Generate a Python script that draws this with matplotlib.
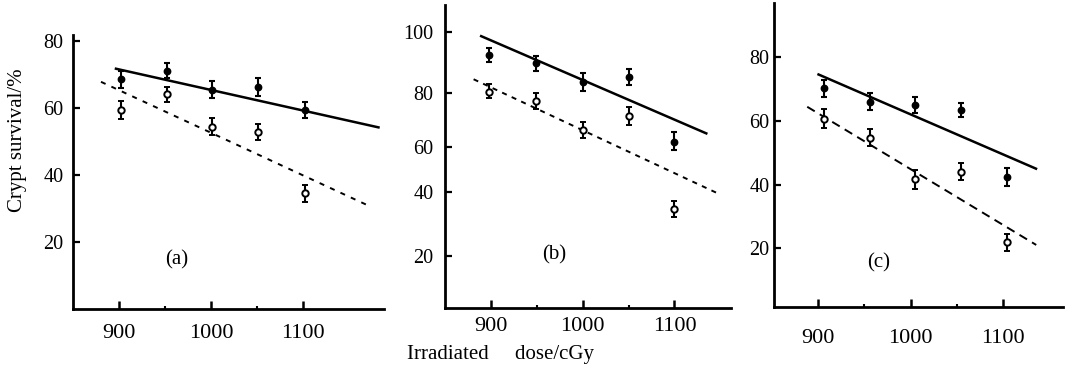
import numpy as np
import matplotlib
matplotlib.use("Agg")
import matplotlib.pyplot as plt

plt.rcParams['font.family'] = ['Liberation Serif', 'DejaVu Serif']

# ---------------- data ----------------
dose_ticks = [900, 1000, 1100]
dose_minor = [950, 1050]

# panel (a)
dose_a = [902, 952, 1001, 1051, 1103]
a_upper = [68.6, 71.1, 65.4, 66.2, 59.4]
a_upper_err = [2.5, 2.2, 2.5, 2.6, 2.5]
a_lower = [59.4, 64.1, 54.4, 52.8, 34.5]
a_lower_err = [2.8, 2.3, 2.6, 2.3, 2.6]
a_fit_solid_x = [895, 1184]
a_fit_solid_y = [71.8, 54.1]
a_fit_dash_x = [880, 1170]
a_fit_dash_y = [67.8, 31.0]
a_yticks = [20, 40, 60, 80]

# panel (b)
dose_b = [898, 949, 1000, 1050, 1100]
b_upper = [92.6, 89.8, 83.8, 85.4, 61.9]
b_upper_err = [2.3, 2.5, 3.0, 2.7, 3.5]
b_lower = [80.5, 77.1, 66.3, 71.5, 34.7]
b_lower_err = [2.4, 3.0, 2.9, 3.3, 2.6]
b_fit_solid_x = [888, 1136]
b_fit_solid_y = [98.9, 64.8]
b_fit_dash_x = [881, 1147]
b_fit_dash_y = [84.6, 39.7]
b_yticks = [20, 40, 60, 80, 100]

# panel (c)
dose_c = [906, 956, 1005, 1054, 1104]
c_upper = [70.3, 66.1, 65.1, 63.5, 42.4]
c_upper_err = [2.6, 2.6, 2.5, 2.2, 2.9]
c_lower = [60.7, 54.8, 41.7, 44.1, 21.9]
c_lower_err = [3.0, 2.7, 2.9, 2.7, 2.6]
c_fit_solid_x = [899, 1137]
c_fit_solid_y = [74.8, 44.9]
c_fit_dash_x = [888, 1136]
c_fit_dash_y = [64.5, 21.1]
c_yticks = [20, 40, 60, 80]

panel_labels = ['(a)', '(b)', '(c)']

# The printed axis of panel (b) is unevenly spaced; reproduce it with a
# piecewise-linear scale through its tick marks.
b_axis_vals = np.array([0, 20, 40, 60, 80, 100, 120], dtype=float)
b_axis_pos = np.array([-11.7, 52.0, 115.7, 161.3, 214.7, 275.7, 336.7])


def b_forward(v):
    return np.interp(v, b_axis_vals, b_axis_pos)


def b_inverse(p):
    return np.interp(p, b_axis_pos, b_axis_vals)


W, H = 1070, 377
fig = plt.figure(figsize=(W / 100, H / 100), dpi=100)


def frac(left, top, right, bottom):
    return [left / W, (H - bottom) / H, (right - left) / W, (bottom - top) / H]


def draw_panel(ax, dose, up, up_err, lo, lo_err, sx, sy, dx, dy, dash,
               yticks, xlim, ylim, label, label_xy, xpad, ypad):
    ax.plot(sx, sy, color='black', lw=1.8, solid_capstyle='butt')
    ax.plot(dx, dy, color='black', lw=1.4, linestyle=dash)
    ax.errorbar(dose, up, yerr=up_err, fmt='o', color='black', ms=4.6,
                mfc='black', capsize=2.5, elinewidth=1.5, capthick=1.5)
    ax.errorbar(dose, lo, yerr=lo_err, fmt='o', color='black', ms=4.6,
                mfc='white', mec='black', mew=1.4, capsize=2.5,
                elinewidth=1.5, capthick=1.5)
    ax.set_xlim(*xlim)
    ax.set_ylim(*ylim)
    ax.set_xticks(dose_ticks)
    ax.set_xticks(dose_minor, minor=True)
    ax.set_yticks(yticks)
    ax.spines[['top', 'right']].set_visible(False)
    for s in ('left', 'bottom'):
        ax.spines[s].set_linewidth(2.0)
    ax.tick_params(axis='x', which='major', direction='in', length=6,
                   width=1.8, labelsize=16, pad=xpad)
    ax.tick_params(axis='x', which='minor', direction='in', length=2,
                   width=1.5)
    ax.tick_params(axis='y', direction='in', length=5, width=1.6,
                   labelsize=14.5, pad=ypad)
    ax.text(label_xy[0], label_xy[1], label, ha='center', va='center',
            fontsize=15)
    ax.patch.set_alpha(0)


ax_a = fig.add_axes(frac(73.3, 35, 384, 308.6))
draw_panel(ax_a, dose_a, a_upper, a_upper_err, a_lower, a_lower_err,
           a_fit_solid_x, a_fit_solid_y, a_fit_dash_x, a_fit_dash_y,
           (0, (2.6, 3.3)), a_yticks, (849.8, 1188.7), (0.0, 81.8),
           panel_labels[0], (962.6, 14.7), 11.3, 7)
ax_a.set_ylabel('Crypt survival/%', fontsize=15)
ax_a.yaxis.set_label_coords(-0.15, 0.614)

ax_b = fig.add_axes(frac(445, 5, 731, 308))
ax_b.set_yscale('function', functions=(b_forward, b_inverse))
draw_panel(ax_b, dose_b, b_upper, b_upper_err, b_lower, b_lower_err,
           b_fit_solid_x, b_fit_solid_y, b_fit_dash_x, b_fit_dash_y,
           (0, (2.6, 2.8)), b_yticks, (849.8, 1161.7), (3.67, 108.95),
           panel_labels[1], (968.7, 20.3), 6.3, 8.4)
ax_b.yaxis.set_minor_locator(matplotlib.ticker.NullLocator())

ax_c = fig.add_axes(frac(774, 3, 1063, 306.7))
draw_panel(ax_c, dose_c, c_upper, c_upper_err, c_lower, c_lower_err,
           c_fit_solid_x, c_fit_solid_y, c_fit_dash_x, c_fit_dash_y,
           (0, (4.5, 3.0)), c_yticks, (852, 1165), (1.7, 97.1),
           panel_labels[2], (965.7, 15.4), 16.3, 3.4)

fig.text(500.5 / W, (H - 354) / H, 'Irradiated     dose/cGy', ha='center',
         va='center', fontsize=15)

fig.savefig('out.png', dpi=100)
